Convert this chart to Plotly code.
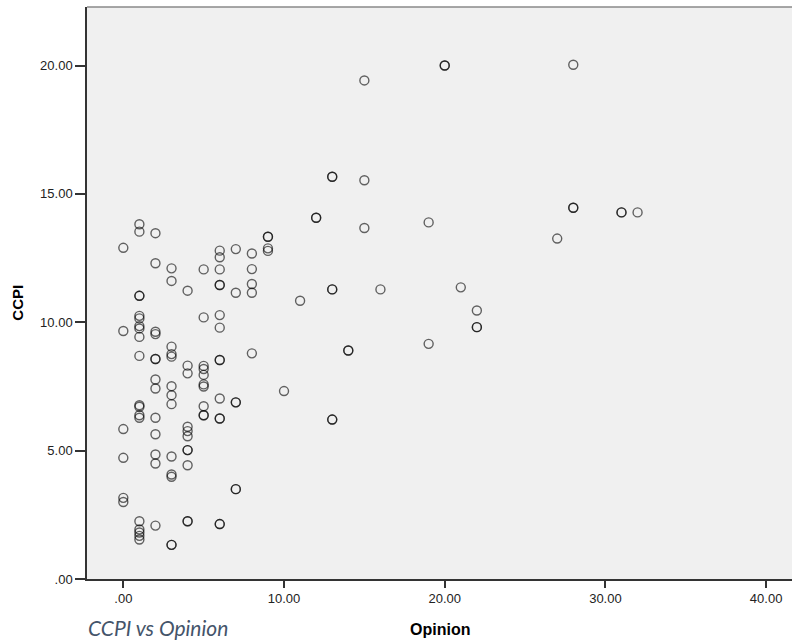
import plotly.graph_objects as go

# Opinion score per respondent (x) and the matching CCPI score (y)
opinion = [
    0, 0, 0, 0, 0, 0,
    1, 1, 1, 1, 1, 1, 1, 1, 1, 1, 1, 1, 1, 1, 1, 1, 1, 1, 1,
    2, 2, 2, 2, 2, 2, 2, 2, 2, 2, 2, 2, 2,
    3, 3, 3, 3, 3, 3, 3, 3, 3, 3, 3, 3, 3,
    4, 4, 4, 4, 4, 4, 4, 4, 4, 4, 4,
    5, 5, 5, 5, 5, 5, 5, 5, 5, 5,
    6, 6, 6, 6, 6, 6, 6, 6, 6, 6, 6, 6, 6, 6,
    7, 7, 7, 7, 7, 7,
    8, 8, 8, 8, 8,
    9, 9, 9, 9,
    10, 11, 12, 12,
    13, 13, 13, 13, 13, 13,
    14, 14,
    15, 15, 15,
    16, 19, 19, 20, 20, 21,
    22, 22, 22,
    27, 28, 28, 28,
    31, 31, 32,
]
ccpi = [
    12.90, 9.66, 5.84, 4.72, 3.16, 3.00,
    13.82, 13.53, 11.03, 11.03, 10.25, 10.15, 9.85, 9.76, 9.43, 8.69, 6.77, 6.71,
    6.38, 6.28, 2.25, 1.93, 1.81, 1.68, 1.54,
    13.47, 12.30, 9.63, 9.54, 8.57, 8.57, 7.77, 7.42, 6.28, 5.64, 4.85, 4.50, 2.08,
    12.10, 11.61, 9.05, 8.76, 8.66, 7.51, 7.16, 6.81, 4.77, 4.07, 3.98, 1.33, 1.33,
    11.23, 8.31, 8.01, 5.93, 5.76, 5.56, 5.02, 5.02, 4.43, 2.25, 2.25,
    12.06, 10.19, 8.30, 8.18, 7.95, 7.58, 7.50, 6.73, 6.38, 6.38,
    12.79, 12.53, 12.06, 11.45, 11.45, 10.28, 9.79, 8.53, 8.53, 7.03, 6.25, 6.25,
    2.14, 2.14,
    12.85, 11.15, 6.88, 6.88, 3.50, 3.50,
    12.68, 12.07, 11.49, 11.15, 8.79,
    13.33, 13.33, 12.88, 12.78,
    7.32, 10.84, 14.07, 14.07,
    15.67, 15.67, 11.28, 11.28, 6.21, 6.21,
    8.90, 8.90,
    19.42, 15.53, 13.67,
    11.28, 13.89, 9.16, 20.00, 20.00, 11.36,
    10.46, 9.81, 9.81,
    13.26, 20.03, 14.46, 14.46,
    14.28, 14.28, 14.28,
]

x_ticks = [0, 10, 20, 30, 40]
x_tick_labels = [".00", "10.00", "20.00", "30.00", "40.00"]
y_ticks = [0, 5, 10, 15, 20]
y_tick_labels = [".00", "5.00", "10.00", "15.00", "20.00"]

fig = go.Figure()
fig.add_trace(go.Scatter(
    x=opinion,
    y=ccpi,
    mode="markers",
    marker=dict(
        symbol="circle-open",
        size=9,
        color="black",
        opacity=0.6,
        line=dict(width=1.4),
    ),
    hoverinfo="x+y",
))

axis_font = dict(family="Liberation Sans, Arial, sans-serif", size=13, color="#222")

fig.update_layout(
    width=792,
    height=643,
    margin=dict(l=87, r=0, t=7, b=64),
    plot_bgcolor="#F0F0F0",
    paper_bgcolor="white",
    showlegend=False,
    xaxis=dict(
        range=[-2.26, 41.61],
        tickvals=x_ticks,
        ticktext=x_tick_labels,
        ticks="outside",
        ticklen=7,
        tickwidth=1.5,
        tickcolor="#333",
        showline=True,
        linecolor="#333",
        linewidth=1.5,
        showgrid=False,
        zeroline=False,
        tickfont=axis_font,
    ),
    yaxis=dict(
        range=[0, 22.28],
        tickvals=y_ticks,
        ticktext=y_tick_labels,
        ticks="outside",
        ticklen=10,
        tickwidth=1.5,
        tickcolor="#333",
        showline=True,
        linecolor="#333",
        linewidth=1.5,
        showgrid=False,
        zeroline=False,
        tickfont=axis_font,
    ),
    shapes=[
        dict(type="line", xref="paper", yref="paper", x0=0, x1=1, y0=1, y1=1,
             line=dict(color="#8a8a8a", width=1.5)),
    ],
    annotations=[
        dict(text="<b>Opinion</b>", xref="paper", yref="paper", x=0.5, y=-0.089,
             xanchor="center", yanchor="middle", showarrow=False,
             font=dict(family="Liberation Sans, Arial, sans-serif", size=16, color="black")),
        dict(text="<b>CCPI</b>", xref="paper", yref="paper", x=-0.098, y=0.483,
             xanchor="center", yanchor="middle", textangle=-90, showarrow=False,
             font=dict(family="Liberation Sans, Arial, sans-serif", size=15, color="black")),
        dict(text="<i>CCPI vs Opinion</i>", xref="paper", yref="paper", x=-0.0014, y=-0.084,
             xanchor="left", yanchor="middle", showarrow=False,
             font=dict(family="Lato, Open Sans, sans-serif", size=21, color="#44546A")),
    ],
)

fig.write_html("out.html")
